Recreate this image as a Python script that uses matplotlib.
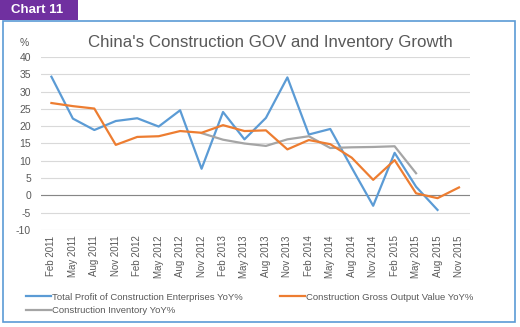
import numpy as np
import matplotlib
matplotlib.use("Agg")
import matplotlib.pyplot as plt
from matplotlib.patches import Rectangle

# data (quarterly, YoY %)
labels = ["Feb 2011", "May 2011", "Aug 2011", "Nov 2011",
          "Feb 2012", "May 2012", "Aug 2012", "Nov 2012",
          "Feb 2013", "May 2013", "Aug 2013", "Nov 2013",
          "Feb 2014", "May 2014", "Aug 2014", "Nov 2014",
          "Feb 2015", "May 2015", "Aug 2015", "Nov 2015"]
profit = [34.3, 22.2, 18.9, 21.5, 22.3, 19.9, 24.6, 7.7, 24.1, 16.2,
          22.4, 34.1, 17.6, 19.2, 8.0, -3.0, 12.3, 2.5, -4.2, np.nan]
gov = [26.7, 25.8, 25.1, 14.6, 16.9, 17.1, 18.6, 18.1, 20.3, 18.6,
       18.8, 13.3, 16.0, 14.8, 10.9, 4.5, 10.2, 0.6, -0.8, 2.3]
inventory = [np.nan] * 7 + [18.0, 16.1, 15.0, 14.3, 16.2, 17.1, 13.7,
                            13.9, 14.0, 14.2, 6.4, np.nan, np.nan]

blue = "#5B9BD5"
orange = "#ED7D31"
grey = "#A5A5A5"
txt = "#595959"

plt.rcParams["font.family"] = ["Liberation Sans", "DejaVu Sans"]
plt.rcParams["axes.unicode_minus"] = False

W, H = 520, 327
fig = plt.figure(figsize=(W / 100, H / 100), dpi=100)

# frame and the purple tab
fig.patches.append(Rectangle((2.5 / W, 5.5 / H), 512.5 / W, 301 / H,
                             transform=fig.transFigure, fill=False,
                             edgecolor=blue, linewidth=1.2))
fig.patches.append(Rectangle((0, 1 - 20 / H), 78 / W, 20 / H,
                             transform=fig.transFigure, facecolor="#7030A0",
                             edgecolor="none"))
fig.text(11 / W, 1 - 10 / H, "Chart 11", color="white", fontsize=9.5,
         fontweight="bold", va="center", ha="left")

ax = fig.add_axes([40.7 / W, 1 - 230 / H, 429 / W, 173 / H])
x = np.arange(len(labels))
ax.plot(x, profit, color=blue, lw=1.6, label="Total Profit of Construction Enterprises YoY%")
ax.plot(x, inventory, color=grey, lw=1.6, label="Construction Inventory YoY%")
ax.plot(x, gov, color=orange, lw=1.6, label="Construction Gross Output Value YoY%")

ax.set_xlim(-0.5, len(labels) - 0.5)
ax.set_ylim(-10, 40)
ax.set_yticks(range(-10, 41, 5))
ax.set_xticks(x)
ax.set_xticklabels(labels, rotation=90)
ax.grid(axis="y", color="#D9D9D9", lw=0.8)
ax.set_axisbelow(True)
ax.axhline(0, color="#868686", lw=0.8, zorder=1)
for s in ax.spines.values():
    s.set_visible(False)
ax.tick_params(length=0, colors=txt, labelsize=7.5)
ax.tick_params(axis="y", pad=7)
ax.tick_params(axis="x", pad=4, labelsize=7)

fig.text(270 / W, 1 - 43 / H, "China's Construction GOV and Inventory Growth",
         fontsize=12.2, color=txt, ha="center", va="center")
fig.text(24 / W, 1 - 43 / H, "%", fontsize=7.5, color=txt, ha="center", va="center")

fig.legend(loc="upper left", bbox_to_anchor=(21 / W, 1 - 288 / H), ncol=2,
           frameon=False, fontsize=6.8, handlelength=2.65, handletextpad=0.1,
           columnspacing=4.0, labelspacing=0.45, borderpad=0, labelcolor=txt)

fig.savefig("out.png", dpi=100)
